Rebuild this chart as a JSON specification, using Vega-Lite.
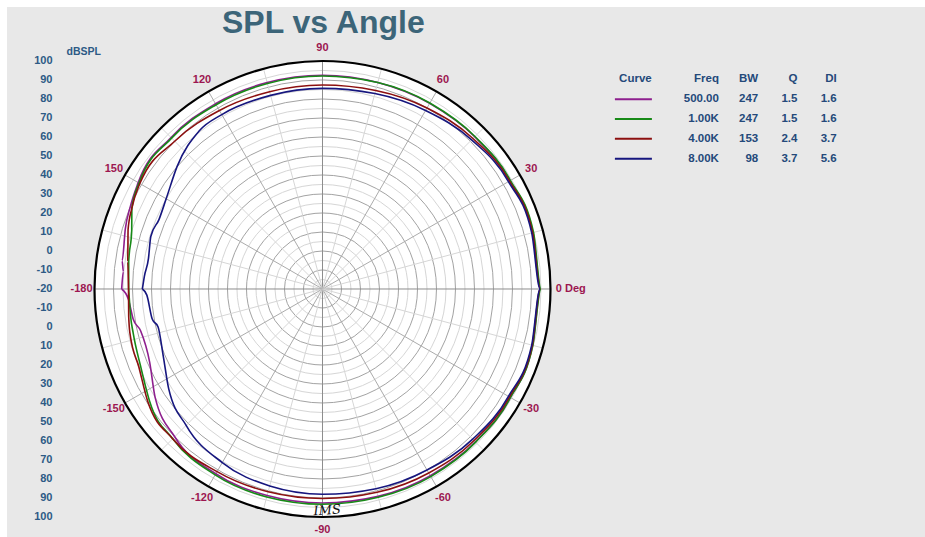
{
  "$schema": "https://vega.github.io/schema/vega-lite/v6.json",
  "width": 918,
  "height": 530,
  "autosize": {"type": "none"},
  "padding": {"left": 7, "top": 7, "right": 0, "bottom": 0},
  "background": "#ffffff",
  "config": {
    "view": {"fill": "#e8e8e8", "stroke": null},
    "font": "Liberation Sans, Arial, sans-serif"
  },
  "title": {
    "text": "SPL vs Angle",
    "anchor": "start",
    "frame": "group",
    "dx": 215,
    "dy": 30,
    "offset": -28,
    "baseline": "alphabetic",
    "fontSize": 32,
    "font": "Liberation Sans, Arial, sans-serif",
    "fontWeight": "bold",
    "color": "#3c6579"
  },
  "datasets": {
    "rings": [
      {"level": -15}, {"level": -10}, {"level": -5}, {"level": 0}, {"level": 5}, {"level": 10},
      {"level": 15}, {"level": 20}, {"level": 25}, {"level": 30}, {"level": 35}, {"level": 40},
      {"level": 45}, {"level": 50}, {"level": 55}, {"level": 60}, {"level": 65}, {"level": 70},
      {"level": 75}, {"level": 80}, {"level": 85}, {"level": 90}, {"level": 95}
    ],
    "outer": [{"level": 100}],
    "spokes": [
      {"angle": 0}, {"angle": 15}, {"angle": 30}, {"angle": 45}, {"angle": 60}, {"angle": 75},
      {"angle": 90}, {"angle": 105}, {"angle": 120}, {"angle": 135}, {"angle": 150}, {"angle": 165},
      {"angle": 180}, {"angle": 195}, {"angle": 210}, {"angle": 225}, {"angle": 240}, {"angle": 255},
      {"angle": 270}, {"angle": 285}, {"angle": 300}, {"angle": 315}, {"angle": 330}, {"angle": 345}
    ],
    "labels": [
      {"label": "0 Deg", "angle": 0}, {"label": "30", "angle": 30}, {"label": "60", "angle": 60},
      {"label": "90", "angle": 90}, {"label": "120", "angle": 120}, {"label": "150", "angle": 150},
      {"label": "-180", "angle": 180}, {"label": "-150", "angle": -150}, {"label": "-120", "angle": -120},
      {"label": "-90", "angle": -90}, {"label": "-60", "angle": -60}, {"label": "-30", "angle": -30}
    ],
    "notes": [{"label": "IMS", "angle": -88.8, "db": 96.5}],
    "curves": [
      {"curve": "500.00", "angle": -180, "db": 85.7},
      {"curve": "500.00", "angle": -177, "db": 82.3},
      {"curve": "500.00", "angle": -171, "db": 80.9},
      {"curve": "500.00", "angle": -167, "db": 78.2},
      {"curve": "500.00", "angle": -157, "db": 78.8},
      {"curve": "500.00", "angle": -147, "db": 85},
      {"curve": "500.00", "angle": -135, "db": 90},
      {"curve": "500.00", "angle": -120, "db": 92.3},
      {"curve": "500.00", "angle": -105, "db": 92.5},
      {"curve": "500.00", "angle": -90, "db": 92.6},
      {"curve": "500.00", "angle": -75, "db": 93},
      {"curve": "500.00", "angle": -60, "db": 93.5},
      {"curve": "500.00", "angle": -45, "db": 93.8},
      {"curve": "500.00", "angle": -30, "db": 94.2},
      {"curve": "500.00", "angle": -15, "db": 94.5},
      {"curve": "500.00", "angle": 0, "db": 94.8},
      {"curve": "500.00", "angle": 15, "db": 94.7},
      {"curve": "500.00", "angle": 30, "db": 94},
      {"curve": "500.00", "angle": 45, "db": 93.3},
      {"curve": "500.00", "angle": 60, "db": 92.8},
      {"curve": "500.00", "angle": 75, "db": 92.5},
      {"curve": "500.00", "angle": 90, "db": 92.5},
      {"curve": "500.00", "angle": 105, "db": 92.5},
      {"curve": "500.00", "angle": 120, "db": 92.6},
      {"curve": "500.00", "angle": 135, "db": 92.7},
      {"curve": "500.00", "angle": 150, "db": 92},
      {"curve": "500.00", "angle": 157, "db": 90},
      {"curve": "500.00", "angle": 163, "db": 88.5},
      {"curve": "500.00", "angle": 172, "db": 86.5},
      {"curve": "500.00", "angle": 175, "db": 85.2},
      {"curve": "500.00", "angle": 180, "db": 85.7},

      {"curve": "1.00K", "angle": -180, "db": 82},
      {"curve": "1.00K", "angle": -172, "db": 82},
      {"curve": "1.00K", "angle": -167, "db": 82.3},
      {"curve": "1.00K", "angle": -157, "db": 84},
      {"curve": "1.00K", "angle": -147, "db": 88.5},
      {"curve": "1.00K", "angle": -135, "db": 91.5},
      {"curve": "1.00K", "angle": -120, "db": 93},
      {"curve": "1.00K", "angle": -105, "db": 93.3},
      {"curve": "1.00K", "angle": -90, "db": 93.3},
      {"curve": "1.00K", "angle": -75, "db": 93.5},
      {"curve": "1.00K", "angle": -60, "db": 94},
      {"curve": "1.00K", "angle": -45, "db": 94},
      {"curve": "1.00K", "angle": -30, "db": 94.2},
      {"curve": "1.00K", "angle": -15, "db": 94.6},
      {"curve": "1.00K", "angle": 0, "db": 95},
      {"curve": "1.00K", "angle": 15, "db": 95},
      {"curve": "1.00K", "angle": 30, "db": 94.2},
      {"curve": "1.00K", "angle": 45, "db": 93.5},
      {"curve": "1.00K", "angle": 60, "db": 93},
      {"curve": "1.00K", "angle": 75, "db": 92.5},
      {"curve": "1.00K", "angle": 90, "db": 92.1},
      {"curve": "1.00K", "angle": 105, "db": 92},
      {"curve": "1.00K", "angle": 120, "db": 92},
      {"curve": "1.00K", "angle": 135, "db": 92.3},
      {"curve": "1.00K", "angle": 150, "db": 91.5},
      {"curve": "1.00K", "angle": 157, "db": 89},
      {"curve": "1.00K", "angle": 163, "db": 85},
      {"curve": "1.00K", "angle": 172, "db": 83},
      {"curve": "1.00K", "angle": 180, "db": 82},

      {"curve": "4.00K", "angle": -180, "db": 82.1},
      {"curve": "4.00K", "angle": -172, "db": 83},
      {"curve": "4.00K", "angle": -167, "db": 84},
      {"curve": "4.00K", "angle": -157, "db": 85},
      {"curve": "4.00K", "angle": -147, "db": 89.5},
      {"curve": "4.00K", "angle": -135, "db": 91.5},
      {"curve": "4.00K", "angle": -120, "db": 91},
      {"curve": "4.00K", "angle": -105, "db": 90.5},
      {"curve": "4.00K", "angle": -90, "db": 90.3},
      {"curve": "4.00K", "angle": -75, "db": 90.8},
      {"curve": "4.00K", "angle": -60, "db": 91.8},
      {"curve": "4.00K", "angle": -45, "db": 92.8},
      {"curve": "4.00K", "angle": -30, "db": 93.6},
      {"curve": "4.00K", "angle": -15, "db": 94.3},
      {"curve": "4.00K", "angle": 0, "db": 94.6},
      {"curve": "4.00K", "angle": 15, "db": 94.5},
      {"curve": "4.00K", "angle": 30, "db": 93.6},
      {"curve": "4.00K", "angle": 45, "db": 92},
      {"curve": "4.00K", "angle": 60, "db": 90},
      {"curve": "4.00K", "angle": 75, "db": 88.2},
      {"curve": "4.00K", "angle": 90, "db": 87.4},
      {"curve": "4.00K", "angle": 105, "db": 87.5},
      {"curve": "4.00K", "angle": 120, "db": 88.5},
      {"curve": "4.00K", "angle": 135, "db": 90},
      {"curve": "4.00K", "angle": 150, "db": 91},
      {"curve": "4.00K", "angle": 157, "db": 89},
      {"curve": "4.00K", "angle": 163, "db": 87},
      {"curve": "4.00K", "angle": 172, "db": 83.5},
      {"curve": "4.00K", "angle": 180, "db": 82.1},

      {"curve": "8.00K", "angle": -180, "db": 74.8},
      {"curve": "8.00K", "angle": -178, "db": 72.5},
      {"curve": "8.00K", "angle": -170, "db": 71},
      {"curve": "8.00K", "angle": -167, "db": 68.8},
      {"curve": "8.00K", "angle": -157, "db": 71},
      {"curve": "8.00K", "angle": -147, "db": 76.5},
      {"curve": "8.00K", "angle": -135, "db": 81.5},
      {"curve": "8.00K", "angle": -120, "db": 85.5},
      {"curve": "8.00K", "angle": -105, "db": 87.3},
      {"curve": "8.00K", "angle": -90, "db": 88},
      {"curve": "8.00K", "angle": -75, "db": 88.8},
      {"curve": "8.00K", "angle": -60, "db": 90},
      {"curve": "8.00K", "angle": -45, "db": 91.8},
      {"curve": "8.00K", "angle": -30, "db": 93},
      {"curve": "8.00K", "angle": -15, "db": 94},
      {"curve": "8.00K", "angle": 0, "db": 94.5},
      {"curve": "8.00K", "angle": 15, "db": 94},
      {"curve": "8.00K", "angle": 30, "db": 93},
      {"curve": "8.00K", "angle": 45, "db": 91},
      {"curve": "8.00K", "angle": 60, "db": 88.5},
      {"curve": "8.00K", "angle": 75, "db": 86.5},
      {"curve": "8.00K", "angle": 90, "db": 85.6},
      {"curve": "8.00K", "angle": 105, "db": 85.5},
      {"curve": "8.00K", "angle": 120, "db": 86},
      {"curve": "8.00K", "angle": 128, "db": 85.5},
      {"curve": "8.00K", "angle": 140, "db": 80},
      {"curve": "8.00K", "angle": 150, "db": 75},
      {"curve": "8.00K", "angle": 157, "db": 73.5},
      {"curve": "8.00K", "angle": 163, "db": 74.5},
      {"curve": "8.00K", "angle": 170, "db": 73},
      {"curve": "8.00K", "angle": 176, "db": 74},
      {"curve": "8.00K", "angle": 180, "db": 74.8}
    ],
    "table": [
      {"Freq": "500.00", "BW": "247", "Q": "1.5", "DI": "1.6"},
      {"Freq": "1.00K", "BW": "247", "Q": "1.5", "DI": "1.6"},
      {"Freq": "4.00K", "BW": "153", "Q": "2.4", "DI": "3.7"},
      {"Freq": "8.00K", "BW": "98", "Q": "3.7", "DI": "5.6"}
    ],
    "headers": [
      {"col": "Curve"}, {"col": "Freq"}, {"col": "BW"}, {"col": "Q"}, {"col": "DI"}
    ]
  },
  "layer": [
    {
      "encoding": {
        "x": {"field": "px", "type": "quantitative", "scale": {"domain": [-166.05, 317.11], "nice": false, "zero": false}, "axis": null},
        "y": {
          "field": "py", "type": "quantitative",
          "scale": {"domain": [-130.53, 148.42], "nice": false, "zero": false},
          "axis": {
            "orient": "left", "offset": -48,
            "values": [-120, -110, -100, -90, -80, -70, -60, -50, -40, -30, -20, -10, 0, 10, 20, 30, 40, 50, 60, 70, 80, 90, 100, 110, 120],
            "labelExpr": "abs(datum.value) - 20",
            "domain": false, "ticks": false, "grid": false,
            "labelPadding": 3, "labelFontSize": 11, "labelFontWeight": "bold", "labelColor": "#2d5a85",
            "labelOverlap": false, "labelBound": false, "labelFlush": false,
            "title": "dBSPL", "titleAngle": 0, "titleX": 11, "titleY": 44.7, "titleAlign": "left", "titleBaseline": "middle",
            "titleFontSize": 10.5, "titleFontWeight": "bold", "titleColor": "#2d5a85"
          }
        }
      },
      "layer": [
        {
          "data": {"name": "outer"},
          "transform": [{"calculate": "0", "as": "px"}, {"calculate": "0", "as": "py"}, {"calculate": "datum.level + 20", "as": "r"}],
          "mark": {"type": "point", "shape": "circle", "filled": true, "opacity": 1, "fill": "#ffffff", "strokeWidth": 0},
          "encoding": {"size": {"field": "r", "type": "quantitative", "scale": {"type": "pow", "exponent": 2, "domain": [0, 120], "range": [0, 207936]}, "legend": null}}
        },
        {
          "data": {"name": "rings"},
          "transform": [{"calculate": "0", "as": "px"}, {"calculate": "0", "as": "py"}, {"calculate": "datum.level + 20", "as": "r"}],
          "mark": {"type": "point", "shape": "circle", "filled": false, "opacity": 1, "strokeWidth": 1},
          "encoding": {
            "size": {"field": "r", "type": "quantitative", "legend": null},
            "stroke": {"condition": {"test": "datum.level % 10 == 0", "value": "#a3a3a3"}, "value": "#d6d6d6"}
          }
        },
        {
          "data": {"name": "spokes"},
          "transform": [
            {"calculate": "0", "as": "px"}, {"calculate": "0", "as": "py"},
            {"calculate": "120 * cos(datum.angle * PI / 180)", "as": "ex"},
            {"calculate": "120 * sin(datum.angle * PI / 180)", "as": "ey"}
          ],
          "mark": {"type": "rule", "strokeWidth": 1},
          "encoding": {
            "x2": {"field": "ex"},
            "y2": {"field": "ey"},
            "stroke": {"condition": [{"test": "datum.angle % 90 == 0", "value": "#8c8c8c"}, {"test": "datum.angle % 30 == 0", "value": "#ababab"}], "value": "#d6d6d6"}
          }
        },
        {
          "data": {"name": "curves"},
          "transform": [
            {"calculate": "(datum.db + 20) * cos(datum.angle * PI / 180)", "as": "px"},
            {"calculate": "(datum.db + 20) * sin(datum.angle * PI / 180)", "as": "py"}
          ],
          "mark": {"type": "line", "strokeWidth": 1.6, "interpolate": "monotone"},
          "encoding": {
            "color": {"field": "curve", "type": "nominal", "scale": {"domain": ["500.00", "1.00K", "4.00K", "8.00K"], "range": ["#8e1f8e", "#178a17", "#8c1010", "#16167e"]}, "legend": null},
            "order": {"field": "angle", "type": "quantitative"}
          }
        },
        {
          "data": {"name": "outer"},
          "transform": [{"calculate": "0", "as": "px"}, {"calculate": "0", "as": "py"}, {"calculate": "datum.level + 20", "as": "r"}],
          "mark": {"type": "point", "shape": "circle", "filled": false, "opacity": 1, "stroke": "#000000", "strokeWidth": 2.2},
          "encoding": {"size": {"field": "r", "type": "quantitative", "legend": null}}
        },
        {
          "data": {"name": "notes"},
          "transform": [
            {"calculate": "(datum.db + 20) * cos(datum.angle * PI / 180)", "as": "px"},
            {"calculate": "(datum.db + 20) * sin(datum.angle * PI / 180)", "as": "py"}
          ],
          "mark": {"type": "text", "align": "center", "baseline": "middle", "fontSize": 13, "fontStyle": "italic", "font": "DejaVu Serif, serif", "color": "#111111", "angle": -4},
          "encoding": {"text": {"field": "label"}}
        },
        {
          "data": {"name": "labels"},
          "transform": [
            {"filter": "datum.label != '0 Deg'"},
            {"calculate": "126.8 * cos(datum.angle * PI / 180)", "as": "px"},
            {"calculate": "126.8 * sin(datum.angle * PI / 180)", "as": "py"}
          ],
          "mark": {"type": "text", "align": "center", "baseline": "middle", "fontSize": 11, "fontWeight": "bold", "color": "#9c1650"},
          "encoding": {"text": {"field": "label"}}
        },
        {
          "data": {"name": "labels"},
          "transform": [
            {"filter": "datum.label == '0 Deg'"},
            {"calculate": "122.8 * cos(datum.angle * PI / 180)", "as": "px"},
            {"calculate": "122.8 * sin(datum.angle * PI / 180)", "as": "py"}
          ],
          "mark": {"type": "text", "align": "left", "baseline": "middle", "fontSize": 11, "fontWeight": "bold", "color": "#9c1650"},
          "encoding": {"text": {"field": "label"}}
        }
      ]
    },
    {
      "encoding": {
        "x": {"field": "col", "type": "nominal", "scale": {"type": "point", "domain": ["Curve", "gap", "Freq", "BW", "Q", "DI"], "range": [633.4, 829.7], "padding": 0}, "axis": null},
        "y": {"field": "row", "type": "nominal", "scale": {"type": "point", "domain": ["hdr", "500.00", "1.00K", "4.00K", "8.00K"], "range": [72.3, 151.7], "padding": 0}, "axis": null}
      },
      "layer": [
        {
          "data": {"name": "headers"},
          "transform": [{"filter": "datum.col != 'Curve'"}, {"calculate": "'hdr'", "as": "row"}],
          "mark": {"type": "text", "align": "right", "baseline": "middle", "fontSize": 11.5, "fontWeight": "bold", "color": "#24497a"},
          "encoding": {"text": {"field": "col"}}
        },
        {
          "data": {"name": "headers"},
          "transform": [{"filter": "datum.col == 'Curve'"}, {"calculate": "'hdr'", "as": "row"}],
          "mark": {"type": "text", "align": "center", "baseline": "middle", "dx": -5, "fontSize": 11.5, "fontWeight": "bold", "color": "#24497a"},
          "encoding": {"text": {"field": "col"}}
        },
        {
          "data": {"name": "table"},
          "transform": [
            {"calculate": "datum.Freq", "as": "row"},
            {"fold": ["Freq", "BW", "Q", "DI"], "as": ["col", "val"]}
          ],
          "mark": {"type": "text", "align": "right", "baseline": "middle", "fontSize": 11.5, "fontWeight": "bold", "color": "#24497a"},
          "encoding": {"text": {"field": "val"}}
        },
        {
          "data": {"name": "table"},
          "transform": [{"calculate": "datum.Freq", "as": "row"}, {"calculate": "'Curve'", "as": "col"}],
          "mark": {"type": "point", "shape": "stroke", "filled": false, "opacity": 1, "strokeWidth": 2, "size": 1369, "xOffset": -7},
          "encoding": {"color": {"field": "Freq", "type": "nominal", "legend": null}}
        }
      ]
    }
  ],
  "resolve": {"scale": {"x": "independent", "y": "independent"}, "axis": {"x": "independent", "y": "independent"}}
}
